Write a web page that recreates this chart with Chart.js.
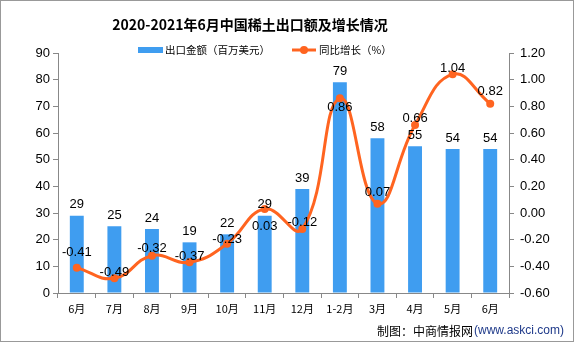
<!DOCTYPE html>
<html><head><meta charset="utf-8">
<script src="https://cdn.jsdelivr.net/npm/chart.js@4/dist/chart.umd.min.js"></script>
<style>html,body{margin:0;padding:0;background:#fff;}canvas{display:block;}</style>
</head><body>
<canvas id="c" width="575" height="343"></canvas>
<script>
const categories = ['6月','7月','8月','9月','10月','11月','12月','1-2月','3月','4月','5月','6月'];
const exportValues = [29, 25, 24, 19, 22, 29, 39, 79, 58, 55, 54, 54];
const growthValues = [-0.41, -0.49, -0.32, -0.37, -0.23, 0.03, -0.12, 0.86, 0.07, 0.66, 1.04, 0.82];
const leftTicks = [0, 10, 20, 30, 40, 50, 60, 70, 80, 90];
const rightTicks = [-0.6, -0.4, -0.2, 0, 0.2, 0.4, 0.6, 0.8, 1.0, 1.2];

const titleText = '2020-2021年6月中国稀土出口额及增长情况';
const barName = '出口金额（百万美元）';
const lineName = '同比增长（%）';
const BAR_COLOR = '#3F9DF0';
const LINE_COLOR = '#FF6420';
// vertical offsets of growth labels relative to their points (style only)
const growthLabelOffsets = [-15, -6, -7, -6, -4, 17, -7, 9, -11, -7, -6, -12];

const decor = {
  id: 'decor',
  afterDatasetsDraw(chart) {
    const ctx = chart.ctx;
    ctx.save();
    // bar labels
    const barMeta = chart.getDatasetMeta(0);
    ctx.fillStyle = '#000';
    ctx.font = '13px "Liberation Sans", Arial, sans-serif';
    ctx.textAlign = 'center';
    ctx.textBaseline = 'middle';
    barMeta.data.forEach((el, i) => {
      ctx.fillText(String(exportValues[i]), el.x, el.y - 11);
    });
    const lineMeta = chart.getDatasetMeta(1);
    lineMeta.data.forEach((el, i) => {
      ctx.fillText(growthValues[i].toFixed(2), el.x, el.y + growthLabelOffsets[i]);
    });
    ctx.restore();
  },
  afterDraw(chart) {
    const ctx = chart.ctx;
    ctx.save();
    // title
    ctx.fillStyle = '#000';
    ctx.textAlign = 'center';
    ctx.textBaseline = 'middle';
    ctx.font = 'bold 14px "Noto Sans CJK SC", sans-serif';
    ctx.fillText(titleText, 250, 25);
    // legend
    ctx.fillStyle = BAR_COLOR;
    ctx.fillRect(138, 47, 25, 6);
    ctx.fillStyle = '#000';
    ctx.textAlign = 'left';
    ctx.font = '10.5px "Noto Sans CJK SC", sans-serif';
    ctx.fillText(barName, 165, 50);
    ctx.strokeStyle = LINE_COLOR;
    ctx.lineWidth = 3;
    ctx.beginPath(); ctx.moveTo(292, 50); ctx.lineTo(316, 50); ctx.stroke();
    ctx.fillStyle = LINE_COLOR;
    ctx.beginPath(); ctx.arc(304, 50, 4, 0, Math.PI * 2); ctx.fill();
    ctx.fillStyle = '#000';
    ctx.fillText(lineName, 319, 50);
    // footer
    ctx.font = '12px "Noto Sans CJK SC", sans-serif';
    ctx.fillText('制图：中商情报网', 377, 331);
    ctx.fillStyle = '#1f3a8a';
    ctx.font = '12px "Liberation Sans", Arial, sans-serif';
    ctx.fillText('(www.askci.com)', 474, 331);
    // frame
    ctx.strokeStyle = '#999';
    ctx.lineWidth = 1;
    ctx.strokeRect(0.5, 0.5, 573, 341);
    ctx.restore();
  }
};

new Chart(document.getElementById('c'), {
  type: 'bar',
  data: {
    labels: categories,
    datasets: [
      {
        label: barName,
        data: exportValues,
        backgroundColor: BAR_COLOR,
        barPercentage: 0.37,
        categoryPercentage: 1,
        yAxisID: 'y',
        order: 2
      },
      {
        type: 'line',
        label: lineName,
        data: growthValues,
        borderColor: LINE_COLOR,
        backgroundColor: LINE_COLOR,
        borderWidth: 3,
        pointRadius: 4,
        pointBackgroundColor: LINE_COLOR,
        pointBorderWidth: 0,
        tension: 0.45,
        yAxisID: 'y1',
        order: 1,
        clip: false
      }
    ]
  },
  options: {
    responsive: false,
    animation: false,
    events: [],
    layout: { padding: { top: 53, left: 0, right: 0, bottom: 0 } },
    plugins: { legend: { display: false }, title: { display: false }, tooltip: { enabled: false } },
    scales: {
      x: {
        grid: { display: true, drawOnChartArea: false, tickLength: 5, color: '#888', offset: true },
        border: { color: '#888' },
        ticks: { color: '#000', font: { size: 11, family: '"Noto Sans CJK SC", sans-serif' }, padding: 4, maxRotation: 0, autoSkip: false },
        afterFit(s) { s.height = 50; }
      },
      y: {
        position: 'left',
        min: 0, max: 90,
        afterBuildTicks(s) { s.ticks = leftTicks.map(v => ({ value: v })); },
        grid: { display: true, drawOnChartArea: false, tickLength: 5, color: '#888' },
        border: { color: '#888' },
        ticks: { color: '#000', font: { size: 13, family: '"Liberation Sans", Arial, sans-serif' }, padding: 3 },
        afterFit(s) { s.width = 58; }
      },
      y1: {
        position: 'right',
        min: -0.6, max: 1.2,
        afterBuildTicks(s) { s.ticks = rightTicks.map(v => ({ value: v })); },
        grid: { display: true, drawOnChartArea: false, tickLength: 5, color: '#888' },
        border: { color: '#888' },
        ticks: { color: '#000', font: { size: 13, family: '"Liberation Sans", Arial, sans-serif' }, padding: 6,
          callback: v => Number(v).toFixed(2) },
        afterFit(s) { s.width = 66; }
      }
    }
  },
  plugins: [decor]
});
</script>
</body></html>
